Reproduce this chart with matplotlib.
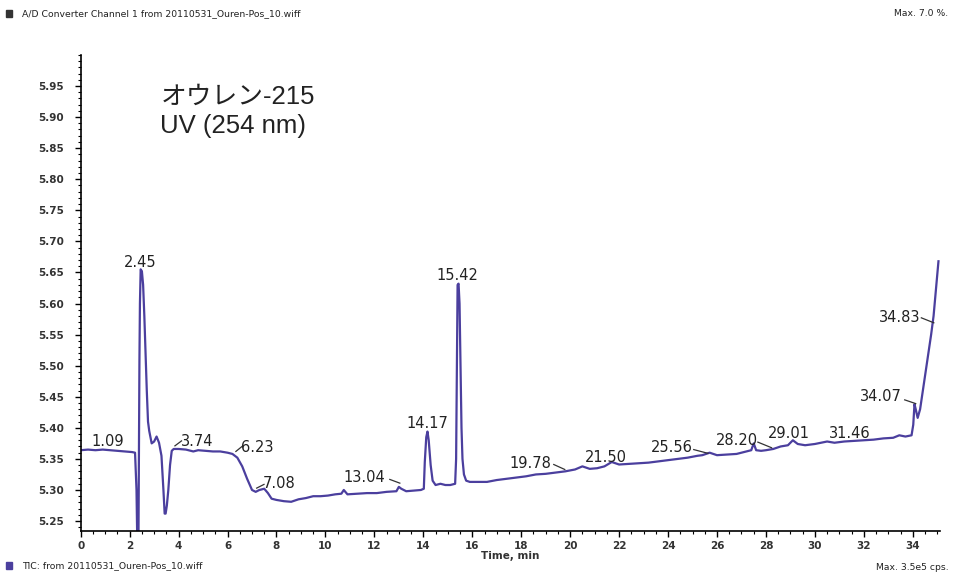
import matplotlib
matplotlib.use("Agg")
import matplotlib.pyplot as plt
from matplotlib.ticker import MultipleLocator, FormatStrFormatter

# Datos del cromatograma (UV 254 nm)
############################################################################
time_min = [0, 0.3, 0.6, 0.9, 1.2, 1.5, 1.8, 2.1, 2.22, 2.25, 2.28, 2.31, 2.36,
            2.40, 2.42, 2.45, 2.50, 2.55, 2.60, 2.65, 2.70, 2.75, 2.80, 2.90,
            3.00, 3.10, 3.20, 3.30, 3.38, 3.43, 3.47, 3.52, 3.58, 3.65, 3.72,
            3.80, 4.0, 4.3, 4.6, 4.8, 5.1, 5.4, 5.7, 6.0, 6.2, 6.4, 6.6, 6.8,
            7.0, 7.15, 7.3, 7.5, 7.65, 7.8, 8.0, 8.3, 8.6, 8.9, 9.2, 9.5, 9.8,
            10.1, 10.4, 10.65, 10.75, 10.9, 11.3, 11.7, 12.1, 12.5, 12.9, 13.0,
            13.1, 13.3, 13.6, 13.9, 14.02, 14.06, 14.12, 14.17, 14.22, 14.3,
            14.38, 14.5, 14.7, 14.9, 15.1, 15.3, 15.34, 15.37, 15.40, 15.44,
            15.48, 15.52, 15.56, 15.60, 15.66, 15.75, 15.9, 16.2, 16.6, 17.0,
            17.4, 17.8, 18.2, 18.6, 19.0, 19.4, 19.8, 20.2, 20.5, 20.8, 21.1,
            21.4, 21.7, 22.0, 22.4, 22.8, 23.2, 23.6, 24.0, 24.4, 24.8, 25.2,
            25.4, 25.7, 26.0, 26.4, 26.8, 27.2, 27.4, 27.5, 27.6, 27.8, 28.0,
            28.3, 28.6, 28.9, 29.1, 29.3, 29.6, 30.0, 30.5, 30.8, 31.2, 31.6,
            32.0, 32.4, 32.8, 33.2, 33.45, 33.7, 33.95, 34.02, 34.07, 34.12,
            34.2, 34.3, 34.45, 34.6, 34.75, 34.85, 34.95, 35.05]

intensity = [5.364, 5.365, 5.364, 5.365, 5.364, 5.363, 5.362, 5.361, 5.360,
             5.33, 5.30, 5.22, 5.22, 5.51, 5.60, 5.655, 5.652, 5.63, 5.58,
             5.52, 5.46, 5.41, 5.395, 5.375, 5.378, 5.386, 5.376, 5.355, 5.30,
             5.262, 5.262, 5.275, 5.30, 5.34, 5.363, 5.366, 5.366, 5.365,
             5.362, 5.364, 5.363, 5.362, 5.362, 5.360, 5.358, 5.352, 5.338,
             5.318, 5.300, 5.297, 5.300, 5.302, 5.295, 5.286, 5.284, 5.282,
             5.281, 5.285, 5.287, 5.290, 5.290, 5.291, 5.293, 5.294, 5.300,
             5.293, 5.294, 5.295, 5.295, 5.297, 5.298, 5.305, 5.302, 5.298,
             5.299, 5.300, 5.302, 5.345, 5.385, 5.394, 5.38, 5.34, 5.315,
             5.308, 5.310, 5.308, 5.308, 5.310, 5.35, 5.50, 5.63, 5.632, 5.60,
             5.50, 5.40, 5.35, 5.325, 5.315, 5.313, 5.313, 5.313, 5.316,
             5.318, 5.320, 5.322, 5.325, 5.326, 5.328, 5.330, 5.333, 5.338,
             5.334, 5.335, 5.338, 5.345, 5.341, 5.342, 5.343, 5.344, 5.346,
             5.348, 5.350, 5.352, 5.355, 5.356, 5.360, 5.356, 5.357, 5.358,
             5.362, 5.364, 5.375, 5.364, 5.363, 5.364, 5.366, 5.370, 5.372,
             5.380, 5.374, 5.372, 5.374, 5.378, 5.376, 5.378, 5.379, 5.380,
             5.381, 5.383, 5.384, 5.388, 5.386, 5.388, 5.405, 5.438, 5.43,
             5.416, 5.430, 5.470, 5.51, 5.55, 5.58, 5.625, 5.668]

peak_labels = ["1.09", "2.45", "3.74", "6.23", "7.08", "13.04", "14.17",
               "15.42", "19.78", "21.50", "25.56", "28.20", "29.01", "31.46",
               "34.07", "34.83"]
############################################################################

# Posicion de etiquetas: (x texto, y texto, linea guia o None)
label_pos = {
    "1.09": (1.12, 5.378, None),
    "2.45": (2.42, 5.666, None),
    "3.74": (4.75, 5.378, ((3.85, 5.371), (4.12, 5.379))),
    "6.23": (7.22, 5.369, ((6.34, 5.362), (6.59, 5.370))),
    "7.08": (8.10, 5.311, ((7.19, 5.303), (7.49, 5.309))),
    "13.04": (11.57, 5.320, ((12.63, 5.317), (13.04, 5.311))),
    "14.17": (14.15, 5.407, None),
    "15.42": (15.41, 5.645, None),
    "19.78": (18.39, 5.343, ((19.33, 5.341), (19.78, 5.333))),
    "21.50": (21.46, 5.352, None),
    "25.56": (24.15, 5.368, ((25.05, 5.365), (25.63, 5.359))),
    "28.20": (26.81, 5.379, ((27.67, 5.377), (28.23, 5.368))),
    "29.01": (28.93, 5.391, None),
    "31.46": (31.42, 5.391, None),
    "34.07": (32.69, 5.450, ((33.67, 5.445), (34.12, 5.439))),
    "34.83": (33.47, 5.578, ((34.35, 5.577), (34.86, 5.569))),
}

trace_color = "#4b3f9e"

fig = plt.figure(figsize=(9.54, 5.78), dpi=100)
ax = fig.add_axes([0.0846, 0.0813, 0.9004, 0.8237])

ax.plot(time_min, intensity, color=trace_color, linewidth=1.6)

ax.set_xlim(0, 35.1)
ax.set_ylim(5.234, 6.0)

ax.spines["top"].set_visible(False)
ax.spines["right"].set_visible(False)
ax.spines["left"].set_linewidth(1.2)
ax.spines["bottom"].set_linewidth(1.2)

ax.xaxis.set_major_locator(MultipleLocator(2))
ax.xaxis.set_minor_locator(MultipleLocator(0.5))
ax.yaxis.set_major_locator(MultipleLocator(0.05))
ax.yaxis.set_minor_locator(MultipleLocator(0.01))
ax.yaxis.set_major_formatter(FormatStrFormatter("%.2f"))
ax.set_yticks([v / 100 for v in range(525, 600, 5)])

ax.tick_params(axis="both", which="major", length=4, width=1,
               labelsize=7.5, labelcolor="#333333", direction="out")
ax.tick_params(axis="both", which="minor", length=2, width=0.8, direction="out")
ax.tick_params(axis="y", pad=8)
ax.tick_params(axis="x", pad=3)
for lab in ax.get_xticklabels() + ax.get_yticklabels():
    lab.set_fontweight("bold")

ax.set_xlabel("Time, min", fontsize=7.5, fontweight="bold", color="#333333",
              labelpad=0)

# Etiquetas de picos
for name in peak_labels:
    tx, ty, guide = label_pos[name]
    ax.text(tx, ty, name, fontsize=10.5, color="#222222", ha="center",
            va="center")
    if guide is not None:
        ax.plot([guide[0][0], guide[1][0]], [guide[0][1], guide[1][1]],
                color="#333333", linewidth=0.9)

# Titulo dentro del grafico
fig.text(0.168, 0.833, "オウレン-215", fontsize=18.5, color="#222222",
         family=["Liberation Sans", "Noto Sans CJK JP"], va="center")
fig.text(0.168, 0.782, "UV (254 nm)", fontsize=18.5, color="#222222",
         family=["Liberation Sans", "Noto Sans CJK JP"], va="center")

# Encabezado y pie
fig.patches.append(plt.Rectangle((0.006, 0.971), 0.007, 0.012,
                                 transform=fig.transFigure, color="#333333"))
fig.text(0.023, 0.977, "A/D Converter Channel 1 from 20110531_Ouren-Pos_10.wiff",
         fontsize=6.7, color="#222222", va="center")
fig.text(0.994, 0.977, "Max. 7.0 %.", fontsize=6.7, color="#222222",
         va="center", ha="right")
fig.patches.append(plt.Rectangle((0.006, 0.015), 0.007, 0.012,
                                 transform=fig.transFigure, color="#4b3f9e"))
fig.text(0.023, 0.021, "TIC: from 20110531_Ouren-Pos_10.wiff",
         fontsize=6.7, color="#222222", va="center")
fig.text(0.994, 0.019, "Max. 3.5e5 cps.", fontsize=6.7, color="#222222",
         va="center", ha="right")

fig.savefig("out.png", dpi=100)
